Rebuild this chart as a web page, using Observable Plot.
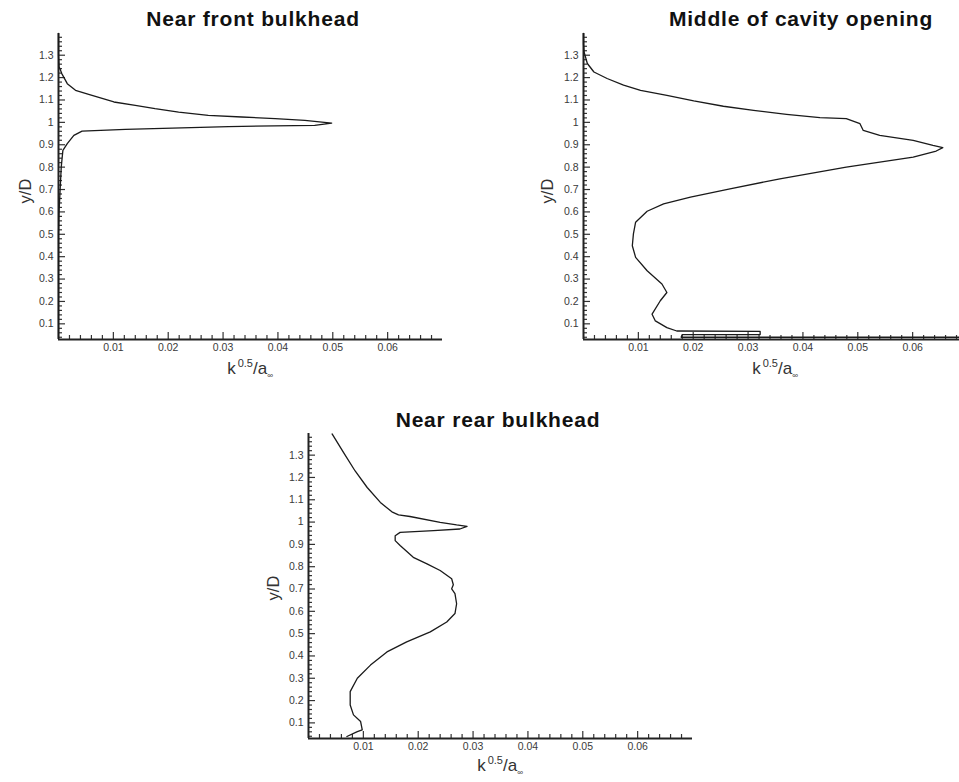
<!DOCTYPE html>
<html><head><meta charset="utf-8">
<script src="https://cdn.jsdelivr.net/npm/d3@7"></script>
<script src="https://cdn.jsdelivr.net/npm/@observablehq/plot@0.6"></script>
<style>
html,body{margin:0;padding:0;background:#fff;overflow:hidden;}
#root{position:relative;width:959px;height:782px;overflow:hidden;font-family:"Liberation Sans",Arial,Helvetica,sans-serif;}
.panel{position:absolute;}
.panel svg{max-width:none !important;}
.title{position:absolute;font-weight:bold;font-size:21px;letter-spacing:0.8px;color:#111;white-space:nowrap;transform:translate(-50%,-50%);line-height:1;}
.ylab{position:absolute;font-size:16.5px;color:#333;transform:translate(-50%,-50%) rotate(-90deg);white-space:nowrap;line-height:1;}
.xlab{position:absolute;font-size:17px;color:#333;transform:translate(-50%,-50%);white-space:nowrap;line-height:1;}
.xlab .sup{font-size:11px;position:relative;top:-7px;margin-left:2px;}
.xlab .sub{font-size:8px;position:relative;top:4px;}
</style>
</head><body>
<div id="root"></div>
<script>
// ---- data ----
const titles = ["Near front bulkhead", "Middle of cavity opening", "Near rear bulkhead"];

// Near front bulkhead
const front_k = [0, 0, 0.0001, 0.0006, 0.0016, 0.0031, 0.0055, 0.0101, 0.0140, 0.0176, 0.0219, 0.0273, 0.0334, 0.0395, 0.0449, 0.0498, 0.0467, 0.0310, 0.0122, 0.0043, 0.0028, 0.0016, 0.0008, 0.0005, 0.0003, 0.0001, 0, 0, 0, 0];
const front_y = [1.397, 1.30, 1.25, 1.218, 1.173, 1.143, 1.125, 1.091, 1.076, 1.061, 1.046, 1.031, 1.024, 1.017, 1.009, 0.997, 0.987, 0.981, 0.969, 0.961, 0.942, 0.905, 0.875, 0.80, 0.70, 0.60, 0.50, 0.30, 0.10, 0.035];

// Middle of cavity opening
const middle_k = [0, 0, 0.0001, 0.0007, 0.0019, 0.0043, 0.0073, 0.0104, 0.0152, 0.0201, 0.0255, 0.0310, 0.0370, 0.0431, 0.0479, 0.0504, 0.0510, 0.0540, 0.0601, 0.0637, 0.0655, 0.0643, 0.0601, 0.0479, 0.0358, 0.0267, 0.0195, 0.0146, 0.0116, 0.0095, 0.0091, 0.0089, 0.0095, 0.0116, 0.0143, 0.0152, 0.0140, 0.0125, 0.0131, 0.0152, 0.0170, 0.0322, 0.0322, 0.0180, 0.0178, 0.0700];
const middle_y = [1.397, 1.35, 1.315, 1.263, 1.225, 1.196, 1.166, 1.143, 1.121, 1.096, 1.072, 1.054, 1.036, 1.021, 1.017, 0.994, 0.964, 0.942, 0.920, 0.897, 0.887, 0.872, 0.845, 0.800, 0.748, 0.703, 0.666, 0.636, 0.603, 0.554, 0.502, 0.449, 0.397, 0.337, 0.278, 0.240, 0.203, 0.143, 0.113, 0.083, 0.068, 0.066, 0.052, 0.052, 0.040, 0.040];

// Near rear bulkhead
const rear_k = [0.0043, 0.0064, 0.0085, 0.0107, 0.0131, 0.0152, 0.0164, 0.0185, 0.0240, 0.0270, 0.0289, 0.0276, 0.0228, 0.0167, 0.0158, 0.0158, 0.0167, 0.0191, 0.0216, 0.0240, 0.0261, 0.0264, 0.0261, 0.0267, 0.0270, 0.0267, 0.0252, 0.0222, 0.0179, 0.0143, 0.0113, 0.0089, 0.0076, 0.0076, 0.0082, 0.0095, 0.0098, 0.0089, 0.0070];
const rear_y = [1.395, 1.311, 1.229, 1.155, 1.088, 1.046, 1.032, 1.025, 0.999, 0.987, 0.981, 0.969, 0.962, 0.954, 0.939, 0.917, 0.895, 0.842, 0.813, 0.783, 0.746, 0.719, 0.701, 0.679, 0.634, 0.590, 0.552, 0.508, 0.463, 0.418, 0.359, 0.300, 0.240, 0.180, 0.136, 0.106, 0.069, 0.061, 0.039];

// axes
const xMajor = [0.01, 0.02, 0.03, 0.04, 0.05, 0.06];
const yMajor = [0.1, 0.2, 0.3, 0.4, 0.5, 0.6, 0.7, 0.8, 0.9, 1.0, 1.1, 1.2, 1.3];
const xDomain = [0, 0.07];
const yDomain = [0.03, 1.397];
const xMinor = d3.range(1, 35).map(i => +(i * 0.002).toFixed(3)).filter(v => !xMajor.some(m => Math.abs(m - v) < 1e-9));
const yMinor = d3.range(2, 70).map(i => +(i * 0.02).toFixed(2)).filter(v => !yMajor.some(m => Math.abs(m - v) < 1e-9));

const zip = (ks, ys) => ks.map((k, i) => ({k, y: ys[i]}));

const root = document.getElementById("root");
const FONT = '"Liberation Sans", Arial, Helvetica, sans-serif';

function addPanel(cfg) {
  const {data, left, top, width, height, mL, mR, mT, mB} = cfg;
  const fw = width - mL - mR, fh = height - mT - mB;
  const p = Plot.plot({
    width, height, marginLeft: mL, marginRight: mR, marginTop: mT, marginBottom: mB,
    style: {fontFamily: FONT, fontSize: "10.5px", color: "#3a3a3a", background: "transparent", maxWidth: "none"},
    x: {domain: xDomain, ticks: xMajor, tickSize: 0, tickPadding: 4, tickFormat: d => d.toFixed(2), label: null},
    y: {domain: yDomain, ticks: yMajor, tickSize: 0, tickPadding: 5, tickFormat: d => String(+d.toFixed(1)), label: null},
    marks: [
      Plot.tickX(xMinor, {x: d => d, insetTop: fh - 4, stroke: "#333", strokeWidth: 1.2}),
      Plot.tickX(xMajor, {x: d => d, insetTop: fh - 7, stroke: "#333", strokeWidth: 1.2}),
      Plot.tickY(yMinor, {y: d => d, insetRight: fw - 4, stroke: "#333", strokeWidth: 1.2}),
      Plot.tickY(yMajor, {y: d => d, insetRight: fw - 7, stroke: "#333", strokeWidth: 1.2}),
      Plot.ruleX([0], {stroke: "#222", strokeWidth: 2}),
      Plot.ruleY([yDomain[0]], {stroke: "#222", strokeWidth: 2}),
      Plot.line(data, {x: "k", y: "y", stroke: "#1a1a1a", strokeWidth: 1.3, curve: "linear"})
    ]
  });
  p.style.maxWidth = "none";
  const wrap = document.createElement("div");
  wrap.className = "panel";
  wrap.style.left = left + "px";
  wrap.style.top = top + "px";
  wrap.style.width = width + "px";
  wrap.style.height = height + "px";
  wrap.appendChild(p);
  root.appendChild(wrap);
}

function addText(cls, html, x, y) {
  const d = document.createElement("div");
  d.className = cls;
  d.innerHTML = html;
  d.style.left = x + "px";
  d.style.top = y + "px";
  root.appendChild(d);
}

const xLabelHTML = 'k<span class="sup">0.5</span>/a<span class="sub">∞</span>';

addPanel({data: zip(front_k, front_y), left: 0, top: 0, width: 470, height: 390, mL: 58, mR: 28, mT: 33, mB: 51});
addPanel({data: zip(middle_k, middle_y), left: 480, top: 0, width: 500, height: 390, mL: 103, mR: 13, mT: 33, mB: 51});
addPanel({data: zip(rear_k, rear_y), left: 240, top: 390, width: 470, height: 392, mL: 68, mR: 18, mT: 43, mB: 44});

addText("title", titles[0], 253, 18);
addText("title", titles[1], 801, 18);
addText("title", titles[2], 498, 419);
addText("ylab", "y/D", 25, 191);
addText("ylab", "y/D", 547, 191);
addText("ylab", "y/D", 273, 588);
addText("xlab", xLabelHTML, 250, 368);
addText("xlab", xLabelHTML, 775, 368);
addText("xlab", xLabelHTML, 500, 765);
</script>
</body></html>
